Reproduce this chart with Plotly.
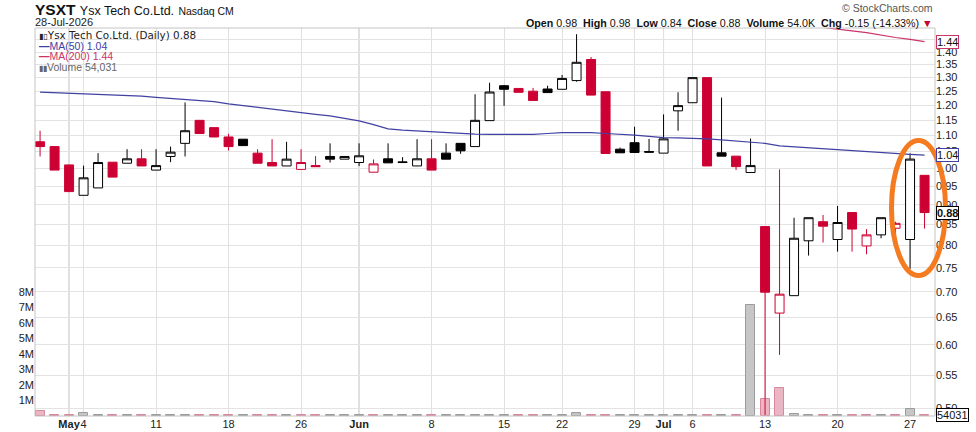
import math
import plotly.graph_objects as go

# ---- data ----
SYMBOL = 'YSXT'
NAME = 'Ysx Tech Co.Ltd.'
EXCHANGE = 'Nasdaq CM'
PRIOR_CLOSE = 1.09

DATES = ['2026-04-29', '2026-04-30', '2026-05-01',
         '2026-05-04', '2026-05-05', '2026-05-06', '2026-05-07', '2026-05-08',
         '2026-05-11', '2026-05-12', '2026-05-13', '2026-05-14', '2026-05-15',
         '2026-05-18', '2026-05-19', '2026-05-20', '2026-05-21', '2026-05-22',
         '2026-05-26', '2026-05-27', '2026-05-28', '2026-05-29',
         '2026-06-01', '2026-06-02', '2026-06-03', '2026-06-04', '2026-06-05',
         '2026-06-08', '2026-06-09', '2026-06-10', '2026-06-11', '2026-06-12',
         '2026-06-15', '2026-06-16', '2026-06-17', '2026-06-18',
         '2026-06-22', '2026-06-23', '2026-06-24', '2026-06-25', '2026-06-26',
         '2026-06-29', '2026-06-30', '2026-07-01', '2026-07-02',
         '2026-07-06', '2026-07-07', '2026-07-08', '2026-07-09', '2026-07-10',
         '2026-07-13', '2026-07-14', '2026-07-15', '2026-07-16', '2026-07-17',
         '2026-07-20', '2026-07-21', '2026-07-22', '2026-07-23', '2026-07-24',
         '2026-07-27', '2026-07-28']

OPEN = [1.080, 1.065, 1.010, 0.925, 0.945, 1.018, 1.015, 1.028, 0.995, 1.035,
        1.075, 1.149, 1.125, 1.095, 1.088, 1.045, 1.017, 1.007, 0.997, 1.008,
        1.035, 1.027, 1.017, 0.989, 1.028, 1.019, 1.007, 1.028, 1.045, 1.075,
        1.065, 1.148, 1.270, 1.260, 1.250, 1.258, 1.257, 1.289, 1.370, 1.248,
        1.057, 1.077, 1.050, 1.045, 1.181, 1.209, 1.300, 1.046, 1.036, 0.988,
        0.845, 0.658, 0.692, 0.811, 0.857, 0.814, 0.880, 0.799, 0.825, 0.841,
        0.814, 0.980]
HIGH = [1.115, 1.065, 1.010, 1.008, 1.045, 1.018, 1.057, 1.057, 1.057, 1.065,
        1.210, 1.149, 1.125, 1.105, 1.088, 1.057, 1.088, 1.080, 1.057, 1.036,
        1.075, 1.035, 1.075, 1.026, 1.075, 1.033, 1.088, 1.088, 1.075, 1.075,
        1.239, 1.281, 1.273, 1.260, 1.262, 1.270, 1.310, 1.474, 1.380, 1.248,
        1.062, 1.128, 1.089, 1.169, 1.246, 1.300, 1.300, 1.227, 1.036, 1.090,
        0.845, 0.997, 0.867, 0.867, 0.874, 0.897, 0.880, 0.839, 0.867, 0.857,
        1.044, 0.980]
LOW = [1.035, 0.995, 0.935, 0.925, 0.945, 0.975, 1.015, 1.007, 0.995, 1.018,
       1.035, 1.106, 1.095, 1.053, 1.067, 1.015, 1.007, 1.007, 0.997, 1.005,
       1.017, 1.027, 1.007, 0.989, 1.016, 1.017, 1.007, 0.995, 1.027, 1.043,
       1.065, 1.148, 1.198, 1.246, 1.217, 1.245, 1.257, 1.285, 1.236, 1.044,
       1.046, 1.047, 1.048, 1.045, 1.115, 1.209, 1.007, 1.036, 0.995, 0.988,
       0.490, 0.583, 0.692, 0.777, 0.807, 0.786, 0.786, 0.780, 0.817, 0.825,
       0.748, 0.840]
CLOSE = [1.065, 0.995, 0.935, 0.973, 1.017, 0.975, 1.028, 1.007, 1.008, 1.048,
         1.115, 1.106, 1.095, 1.065, 1.068, 1.015, 1.007, 1.027, 1.017, 1.005,
         1.027, 1.035, 1.037, 1.013, 1.016, 1.017, 1.028, 0.995, 1.027, 1.052,
         1.149, 1.247, 1.257, 1.246, 1.217, 1.245, 1.297, 1.359, 1.236, 1.044,
         1.046, 1.047, 1.048, 1.089, 1.199, 1.300, 1.007, 1.036, 1.005, 1.008,
         0.699, 0.695, 0.817, 0.867, 0.846, 0.855, 0.839, 0.825, 0.867, 0.853,
         1.0272, 0.880]
VOLUME = [320000, 85000, 90000, 200000, 75000, 80000, 70000, 85000, 75000, 70000,
          80000, 85000, 75000, 80000, 70000, 75000, 80000, 75000, 85000, 70000,
          80000, 75000, 80000, 85000, 75000, 70000, 80000, 90000, 75000, 80000,
          85000, 80000, 75000, 85000, 80000, 75000, 90000, 170000, 90000, 85000,
          75000, 80000, 70000, 75000, 80000, 85000, 90000, 80000, 85000, 7150000,
          1100000, 1820000, 150000, 80000, 85000, 80000, 90000, 85000, 90000, 85000,
          430000, 54031]
MA50 = [1.247, 1.245, 1.243, 1.241, 1.240, 1.236, 1.234, 1.232, 1.228, 1.224,
        1.221, 1.217, 1.213, 1.205, 1.199, 1.192, 1.186, 1.179, 1.173, 1.169,
        1.164, 1.155, 1.147, 1.135, 1.121, 1.117, 1.114, 1.112, 1.109, 1.106,
        1.104, 1.103, 1.103, 1.103, 1.103, 1.106, 1.109, 1.109, 1.109, 1.106,
        1.104, 1.101, 1.097, 1.093, 1.092, 1.091, 1.089, 1.086, 1.082, 1.080,
        1.075, 1.067, 1.064, 1.061, 1.058, 1.055, 1.051, 1.048, 1.045, 1.043,
        1.041, 1.039]
# MA(200) only enters the price window near the end
MA200_FROM = '2026-07-13'
MA200 = [1.560, 1.548, 1.535, 1.522, 1.503, 1.494, 1.488, 1.481, 1.470, 1.460,
         1.452, 1.443]

TICK_DATES = ['2026-05-01', '2026-05-04', '2026-05-11', '2026-05-18', '2026-05-26',
              '2026-06-01', '2026-06-08', '2026-06-15', '2026-06-22', '2026-06-29',
              '2026-07-01', '2026-07-06', '2026-07-13', '2026-07-20', '2026-07-27']
TICK_TEXT = ['<b>May</b>', '4', '11', '18', '26', '<b>Jun</b>', '8', '15', '22', '29',
             '<b>Jul</b>', '6', '13', '20', '27']
PRICE_TICKS = [0.50, 0.55, 0.60, 0.65, 0.70, 0.75, 0.80, 0.85, 0.90, 0.95,
               1.00, 1.05, 1.10, 1.15, 1.20, 1.25, 1.30, 1.35, 1.40, 1.45]
VOL_TICKS = [1e6, 2e6, 3e6, 4e6, 5e6, 6e6, 7e6, 8e6]
VOL_TEXT = ['1M', '2M', '3M', '4M', '5M', '6M', '7M', '8M']

RED = '#cc0033'
BLACK = '#000000'
MA50_COLOR = '#4141a3'
MA200_COLOR = '#cc3366'

# plot box in pixels (976x432 page)
L, R, T, B = 35, 935, 28, 416
W, H = 976, 432


def px(p):
    return (p - L) / (R - L)


def py(p):
    return (B - p) / (B - T)


idx = list(range(len(DATES)))
pos = {d: i for i, d in enumerate(DATES)}

# StockCharts colouring: black when close >= previous close, red otherwise
prev = [PRIOR_CLOSE] + CLOSE[:-1]
is_black = [c >= p for c, p in zip(CLOSE, prev)]


def sub(lst, flag):
    return [v for v, f in zip(lst, is_black) if f == flag]


fig = go.Figure()

# volume on the left axis
fig.add_trace(go.Bar(
    x=idx, y=VOLUME, width=0.62, yaxis='y',
    marker=dict(color=['#c6c6c6' if b else '#ebb6c3' for b in is_black],
                line=dict(color=['#9c9c9c' if b else '#d9889c' for b in is_black], width=1)),
    hoverinfo='skip', showlegend=False))

for flag, col in [(True, BLACK), (False, RED)]:
    fig.add_trace(go.Candlestick(
        x=sub(idx, flag), open=sub(OPEN, flag), high=sub(HIGH, flag),
        low=sub(LOW, flag), close=sub(CLOSE, flag), yaxis='y2',
        increasing=dict(line=dict(color=col, width=1), fillcolor='white'),
        decreasing=dict(line=dict(color=col, width=1), fillcolor=col),
        whiskerwidth=0, hoverinfo='skip', showlegend=False))

fig.add_trace(go.Scatter(x=idx, y=MA50, yaxis='y2', mode='lines',
                         line=dict(color=MA50_COLOR, width=1.2),
                         hoverinfo='skip', showlegend=False))
ma200_x = idx[pos[MA200_FROM]:]
fig.add_trace(go.Scatter(x=ma200_x, y=MA200, yaxis='y2', mode='lines',
                         line=dict(color=MA200_COLOR, width=1.2),
                         hoverinfo='skip', showlegend=False))

# month separator lines
shapes = []
for i in idx[1:]:
    if DATES[i][5:7] != DATES[i - 1][5:7]:
        shapes.append(dict(type='line', xref='x', yref='paper', x0=i, x1=i, y0=0, y1=1,
                           line=dict(color='#b5b5b5', width=1), layer='below'))
shapes.append(dict(type='rect', xref='paper', yref='paper', x0=0, x1=1, y0=0, y1=1,
                   line=dict(color='#c4c4c4', width=1)))
# hand-drawn highlight ellipse
shapes.append(dict(type='circle', xref='paper', yref='paper',
                   x0=px(891.5), x1=px(945.5), y0=py(275.5), y1=py(140.5),
                   line=dict(color='#f47b20', width=5)))

ann = []
AR = 'Liberation Sans, Arial, sans-serif'
ann.append(dict(x=px(33), y=py(9.5), xref='paper', yref='paper', xanchor='left', yanchor='middle',
                showarrow=False,
                text=f"<b>{SYMBOL}</b> <span style='font-size:12.5px'>{NAME}</span> "
                     f"<span style='font-size:10.5px'>{EXCHANGE}</span>",
                font=dict(family=AR, size=15.5, color='#111')))
last = DATES[-1]
months = ['Jan', 'Feb', 'Mar', 'Apr', 'May', 'Jun', 'Jul', 'Aug', 'Sep', 'Oct', 'Nov', 'Dec']
date_txt = f"{last[8:10]}-{months[int(last[5:7]) - 1]}-{last[:4]}"
ann.append(dict(x=px(33), y=py(22), xref='paper', yref='paper', xanchor='left', yanchor='middle',
                showarrow=False, text=date_txt, font=dict(family=AR, size=11, color='#222')))
ann.append(dict(x=1.0, y=py(8.5), xref='paper', yref='paper', xanchor='right', yanchor='middle',
                showarrow=False, text='© StockCharts.com', font=dict(family=AR, size=10.5, color='#555')))
chg = CLOSE[-1] - CLOSE[-2]
pct = chg / CLOSE[-2] * 100
vol_k = VOLUME[-1] / 1000
ann.append(dict(x=1.0, y=py(22.5), xref='paper', yref='paper', xanchor='right', yanchor='middle',
                showarrow=False,
                text=f"<b>Open</b> {OPEN[-1]:.2f}  <b>High</b> {HIGH[-1]:.2f}  <b>Low</b> {LOW[-1]:.2f}  "
                     f"<b>Close</b> {CLOSE[-1]:.2f}  <b>Volume</b> {vol_k:.1f}K  "
                     f"<b>Chg</b> {chg:.2f} ({pct:.2f}%) <span style='color:{RED}'>▼</span>",
                font=dict(family=AR, size=10.7, color='#111')))

# legend block inside the plot
legend_rows = [
    (35, f"<span style='font-size:8px'>▮▯</span>{NAME} (Daily) {CLOSE[-1]:.2f}", '#222',
     'DejaVu Sans, sans-serif', 10.4),
    (45.7, f"<b>—</b>MA(50) {MA50[-1]:.2f}", MA50_COLOR, AR, 10.5),
    (56, f"<b>—</b>MA(200) {MA200[-1]:.2f}", MA200_COLOR, AR, 10.5),
    (66.7, f"<span style='font-size:8px'>▮▮</span>Volume {VOLUME[-1]:,}", '#666', AR, 10.5),
]
for yy, txt, col, fam, sz in legend_rows:
    ann.append(dict(x=px(37), y=py(yy), xref='paper', yref='paper', xanchor='left', yanchor='middle',
                    showarrow=False, text=txt, font=dict(family=fam, size=sz, color=col)))

# value tags on the right axis
tags = [(math.log10(MA200[-1]), 'y2', f"{MA200[-1]:.2f}", MA200_COLOR, False),
        (math.log10(MA50[-1]), 'y2', f"{MA50[-1]:.2f}", MA50_COLOR, False),
        (math.log10(CLOSE[-1]), 'y2', f"{CLOSE[-1]:.2f}", BLACK, True),
        (VOLUME[-1], 'y', f"{VOLUME[-1]}", BLACK, False)]
for yv, yr, txt, col, bold in tags:
    ann.append(dict(x=px(936), y=yv, xref='paper', yref=yr, xanchor='left', yanchor='middle',
                    showarrow=False, text=f"<b>{txt}</b>" if bold else txt,
                    font=dict(family=AR, size=11, color='#111'),
                    bgcolor='white', bordercolor=col, borderwidth=1, borderpad=0))

lo, hi = math.log10(0.4886), math.log10(1.5007)

fig.update_layout(
    width=W, height=H,
    margin=dict(l=L, r=W - R, t=T, b=H - B, autoexpand=False),
    paper_bgcolor='white', plot_bgcolor='white',
    boxgap=0.38, boxgroupgap=0,
    xaxis=dict(range=[-0.35, len(DATES) - 0.28], showgrid=True, gridcolor='#e0e0e0', gridwidth=1,
               tickvals=[pos[d] for d in TICK_DATES], ticktext=TICK_TEXT, tickangle=0,
               tickfont=dict(family=AR, size=11, color='#222'), ticks='', automargin=False,
               zeroline=False, showline=False, rangeslider=dict(visible=False), fixedrange=True),
    yaxis=dict(side='left', range=[0, 25e6], tickvals=VOL_TICKS, ticktext=VOL_TEXT,
               tickfont=dict(family=AR, size=11, color='#222'), showgrid=False, zeroline=False,
               ticks='', fixedrange=True, automargin=False),
    yaxis2=dict(overlaying='y', side='right', type='log', range=[lo, hi],
                tickvals=PRICE_TICKS, ticktext=[f"{v:.2f}" for v in PRICE_TICKS],
                tickfont=dict(family=AR, size=11, color='#222'), showgrid=True, automargin=False,
                gridcolor='#e3e3e3', gridwidth=1, zeroline=False, ticks='', fixedrange=True),
    shapes=shapes, annotations=ann, bargap=0, hovermode=False,
)

# the page body has a default 8px margin; drop it so the figure sits at the window corner
fig.write_html("out.html", config={'displayModeBar': False},
               post_script="document.body.style.margin='0px';")
